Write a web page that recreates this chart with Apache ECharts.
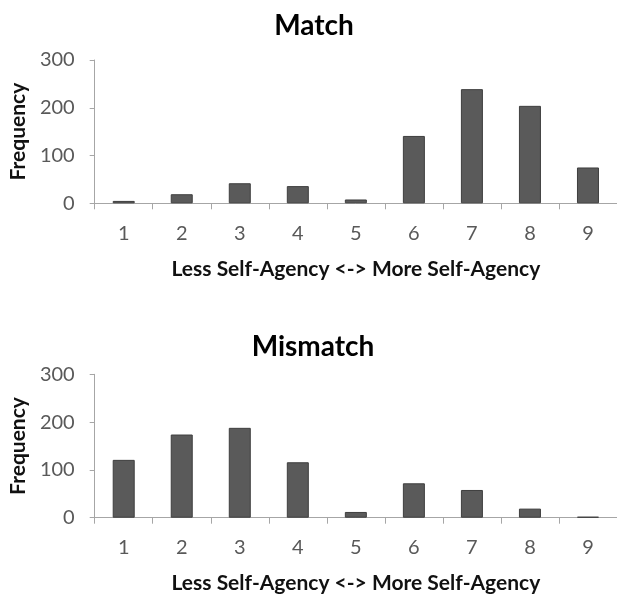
<!DOCTYPE html>
<html>
<head>
<meta charset="utf-8">
<script src="https://cdn.jsdelivr.net/npm/echarts@6/dist/echarts.min.js"></script>
<style>
html,body{margin:0;padding:0;background:#fff;}
#c{width:617px;height:595px;}
</style>
</head>
<body>
<div id="c"></div>
<script>
var categories = ['1','2','3','4','5','6','7','8','9'];
var matchValues = [5, 19, 42, 36, 8, 141, 239, 204, 75];
var mismatchValues = [121, 174, 188, 116, 12, 72, 58, 19, 2];
var yTicks = [0, 100, 200, 300];
var titles = ['Match', 'Mismatch'];
var xTitle = 'Less Self-Agency <-> More Self-Agency';
var yTitle = 'Frequency';

var FONT = 'Lato';
var chart = echarts.init(document.getElementById('c'), null, {renderer: 'canvas'});

function xAxis(idx) {
  return {
    type: 'category', gridIndex: idx, data: categories,
    boundaryGap: true,
    axisLine: {lineStyle: {color: '#a6a6a6', width: 1}},
    axisTick: {show: true, length: 6, alignWithLabel: false, lineStyle: {color: '#a6a6a6'}},
    axisLabel: {color: '#595959', fontFamily: FONT, fontSize: 20, margin: 20},
    name: xTitle, nameLocation: 'middle', nameGap: 55,
    nameTextStyle: {color: '#111', fontFamily: FONT, fontSize: 21, fontWeight: 'bold'}
  };
}
function yAxis(idx) {
  return {
    type: 'value', gridIndex: idx, min: yTicks[0], max: yTicks[yTicks.length-1], interval: 100,
    splitLine: {show: false},
    axisLine: {show: true, lineStyle: {color: '#a6a6a6', width: 1}},
    axisTick: {show: true, length: 5, lineStyle: {color: '#a6a6a6'}},
    axisLabel: {color: '#595959', fontFamily: FONT, fontSize: 20, margin: 20},
    name: yTitle, nameLocation: 'middle', nameRotate: 90, nameGap: 64,
    nameTextStyle: {color: '#111', fontFamily: FONT, fontSize: 21, fontWeight: 'bold'}
  };
}
function bar(idx, data) {
  return {
    type: 'bar', xAxisIndex: idx, yAxisIndex: idx, data: data,
    barWidth: 22,
    itemStyle: {color: '#5a5a5a', borderColor: '#3f3f3f', borderWidth: 1},
    silent: true
  };
}

chart.setOption({
  animation: false,
  title: [
    {text: titles[0], left: 309, top: 7, textAlign: 'center',
     textStyle: {fontFamily: FONT, fontSize: 28, fontWeight: 'bold', color: '#000'}},
    {text: titles[1], left: 308, top: 328, textAlign: 'center',
     textStyle: {fontFamily: FONT, fontSize: 28, fontWeight: 'bold', color: '#000'}}
  ],
  grid: [
    {left: 93, right: 0, top: 60, height: 143.3},
    {left: 93, right: 0, top: 374.3, height: 143.4}
  ],
  xAxis: [xAxis(0), xAxis(1)],
  yAxis: [yAxis(0), yAxis(1)],
  series: [bar(0, matchValues), bar(1, mismatchValues)]
});
</script>
</body>
</html>
